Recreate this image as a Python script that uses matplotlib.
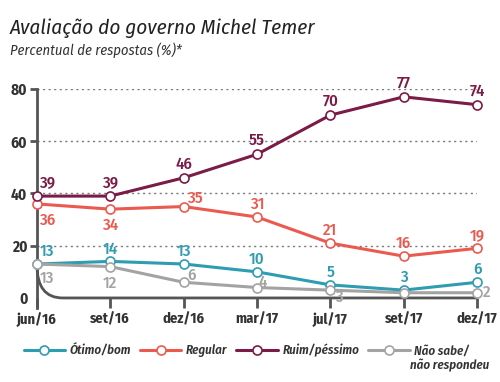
import matplotlib
matplotlib.use('Agg')
import matplotlib.pyplot as plt
from matplotlib.path import Path
from matplotlib.patches import PathPatch

plt.rcParams['font.family'] = ['Fira Sans Condensed', 'PT Sans Narrow',
                               'Asap Condensed', 'DejaVu Sans']

meses = ['jun/16', 'set/16', 'dez/16', 'mar/17', 'jul/17', 'set/17', 'dez/17']
otimo = [13, 14, 13, 10, 5, 3, 6]
regular = [36, 34, 35, 31, 21, 16, 19]
ruim = [39, 39, 46, 55, 70, 77, 74]
nao_sabe = [13, 12, 6, 4, 3, 2, 2]
series_names = ['Ótimo/bom', 'Regular', 'Ruim/péssimo', 'Não sabe/']
extra_line = 'não respondeu'
yticks = [0, 20, 40, 60, 80]

colors = ['#2e9cb1', '#ea5a4f', '#7b1b47', '#a3a3a3']
axis_col = '#555555'

# label offsets in points (dx, dy) per series
off_otimo = [(7, 9), (0, 9), (0, 9), (0, 9), (0, 9), (0, 9), (0, 9)]
off_regular = [(7, -12), (0, -12), (8, 6), (0, 9), (0, 9), (0, 9), (0, 9)]
off_ruim = [(7, 10), (0, 10), (0, 10), (0, 10), (0, 10), (0, 10), (0, 10)]
off_nao = [(7, -10), (0, -12), (6, 5), (4, 4), (6, -5), None, (7, 0)]

fig = plt.figure(figsize=(5, 3.82), dpi=100)
ax = fig.add_axes([0.074, 0.22, 0.88, 0.547])

x = list(range(len(meses)))
all_series = [otimo, regular, ruim, nao_sabe]
all_offs = [off_otimo, off_regular, off_ruim, off_nao]
order = [3, 1, 0, 2]
for i in order:
    vals = all_series[i]
    ax.plot(x, vals, color=colors[i], lw=2.2, marker='o', ms=6.5,
            mfc='white', mec=colors[i], mew=1.2, zorder=3 + i,
            label=series_names[i], clip_on=False, solid_capstyle='round')
    for xi, v, off in zip(x, vals, all_offs[i]):
        if off is None:
            continue
        ax.annotate(str(v), (xi, v), xytext=off, textcoords='offset points',
                    ha='center', va='center', fontsize=12, fontweight='medium',
                    color=colors[i], zorder=10)

ax.set_xlim(0, 6)
ax.set_ylim(0, 80)
ax.set_yticks(yticks)
ax.set_yticklabels([str(t) for t in yticks], fontsize=11,
                   fontweight='bold', color='#333333')
ax.set_xticks(x)
ax.set_xticklabels(meses, fontsize=10.5, fontweight='bold', color='#333333')
ax.tick_params(axis='y', length=5, width=2, color=axis_col, pad=2)
ax.tick_params(axis='x', length=7, width=2, color=axis_col, pad=3)
ax.yaxis.get_major_ticks()[0].tick1line.set_visible(False)

for t in yticks[1:]:
    ax.axhline(t, color='#777777', lw=1, ls=(0, (1.5, 2.5)), zorder=1)

for s in ['top', 'right', 'bottom']:
    ax.spines[s].set_visible(False)
ax.spines['left'].set_color(axis_col)
ax.spines['left'].set_linewidth(2)
ax.spines['left'].set_bounds(-4, 80)

# bottom axis with rounded corner
verts = [(0, 12.5), (0, 0), (0.35, 0), (6, 0)]
codes = [Path.MOVETO, Path.CURVE3, Path.CURVE3, Path.LINETO]
ax.add_patch(PathPatch(Path(verts, codes), fc='none', ec=axis_col, lw=2,
                       clip_on=False, zorder=2))

fig.text(0.02, 0.91, 'Avaliação do governo Michel Temer', fontsize=15.2,
         style='italic', color='#222222')
fig.text(0.02, 0.857, 'Percentual de respostas (%)*', fontsize=10.5,
         style='italic', color='#333333')

handles, labels = ax.get_legend_handles_labels()
idx = [labels.index(n) for n in series_names]
leg = ax.legend([handles[j] for j in idx], [labels[j] for j in idx],
                ncol=4, loc='upper left', bbox_to_anchor=(-0.042, -0.194),
                frameon=False, handlelength=3.2, handletextpad=0.35,
                columnspacing=0.7, borderaxespad=0,
                prop={'size': 9.3, 'style': 'italic', 'weight': 'semibold'})
for t in leg.get_texts():
    t.set_color('#333333')

fig.canvas.draw()
bb = leg.get_texts()[-1].get_window_extent()
x0, y0 = fig.transFigure.inverted().transform((bb.x0, bb.y0))
fig.text(x0 - 0.008, y0 - 0.005, extra_line, fontsize=9.3, style='italic',
         fontweight='semibold', color='#333333', va='top')

fig.savefig('out.png', dpi=100)
